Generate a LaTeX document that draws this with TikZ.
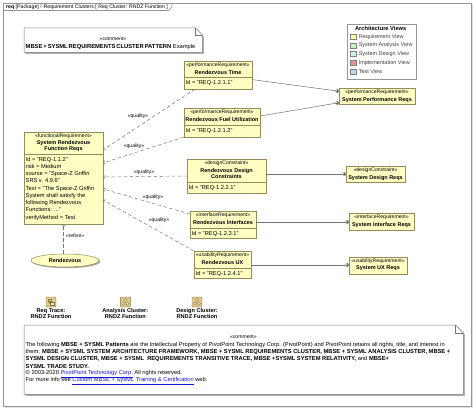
\documentclass[tikz,border=0pt]{standalone}
\usepackage{fontspec}
\setmainfont{Liberation Sans}
\usetikzlibrary{arrows.meta,calc,shadows,shapes.geometric}

\definecolor{reqfill}{RGB}{255,255,196}
\definecolor{reqline}{RGB}{150,140,90}
\definecolor{conn}{RGB}{115,115,115}
\definecolor{framec}{RGB}{150,150,150}
\definecolor{notec}{RGB}{120,120,120}
\definecolor{linkc}{RGB}{20,20,220}
\definecolor{icontan}{RGB}{222,200,140}
\definecolor{iconline}{RGB}{140,110,60}
\definecolor{lgyellow}{RGB}{255,255,150}
\definecolor{lggreen}{RGB}{200,240,200}
\definecolor{lgcyan}{RGB}{200,245,250}
\definecolor{lgred}{RGB}{240,140,150}
\definecolor{lgblue}{RGB}{190,215,240}

\newcommand\fst{\fontsize{5.1}{5.8}\selectfont}
\newcommand\fsn{\fontsize{5.5}{5.8}\selectfont\bfseries}
\newcommand\fsa{\fontsize{5.7}{7.25}\selectfont}
\newcommand\fsc{\fontsize{5.75}{7.3}\selectfont}
\newcommand\mbs{MBSE + SYSML}

\tikzset{
  rbox/.style={draw=reqline, fill=reqfill, line width=0.5pt, inner sep=0, outer sep=0,
    drop shadow={shadow xshift=1.2pt, shadow yshift=-1.2pt, opacity=0.35, fill=black}},
  stereo/.style={inner sep=0, font=\fst},
  rname/.style={inner sep=0, align=center, font=\fsn},
  rattr/.style={inner sep=0, align=left, font=\fsa, anchor=north west},
  qline/.style={draw=conn, line width=0.45pt, dash pattern=on 3.5pt off 2.5pt,
    -{Straight Barb[length=2pt,width=3.2pt]}},
  cline/.style={draw=conn, line width=0.5pt},
  contain/.style={circle, draw=conn, fill=white, minimum size=3.6pt, inner sep=0, line width=0.4pt,
    path picture={\draw[conn, line width=0.3pt] (path picture bounding box.north) -- (path picture bounding box.south)
      (path picture bounding box.west) -- (path picture bounding box.east);}},
  qlabel/.style={inner sep=0, font=\fst},
  lsq/.style={draw=gray, minimum width=6pt, minimum height=5pt, inner sep=0},
  ltext/.style={anchor=west, inner sep=0, font=\fontsize{5.5}{6}\selectfont, text=black!75},
  icon/.style={draw=iconline, fill=icontan, minimum size=10pt, inner sep=0, rounded corners=0.8pt},
  iclabel/.style={inner sep=0, align=center, font=\fontsize{5.6}{5.7}\selectfont\bfseries},
  cline2/.style={anchor=west, inner sep=0, font=\fsc},
}

% name, x1, y1, x2, y2, ydiv, stereotype, title, attributes
\newcommand\reqbox[9]{%
  \node[rbox, minimum width=#4pt-#2pt, minimum height=#5pt-#3pt, anchor=north west] (#1) at (#2,#3) {};
  \draw[reqline, line width=0.5pt] (#2,#6) -- (#4,#6);
  \node[stereo] (#1-st) at ({(#2+#4)/2},{#3+4.5}) {«#7»};
  \node[rname] (#1-nm) at ({(#2+#4)/2},{(#3+#6)/2+3.4}) {#8};
  \node[rattr] (#1-at) at ({#2+1.5},{#6+2.8}) {#9};
}
% name, x1, y1, x2, y2, stereotype, title
\newcommand\sysbox[7]{%
  \node[rbox, minimum width=#4pt-#2pt, minimum height=#5pt-#3pt, anchor=north west] (#1) at (#2,#3) {};
  \node[stereo] (#1-st) at ({(#2+#4)/2},{#3+4.4}) {«#6»};
  \node[rname] (#1-nm) at ({(#2+#4)/2},{#3+11.6}) {#7};
}

\begin{document}
\begin{tikzpicture}[x=1pt, y=-1pt]
\useasboundingbox (0,0) rectangle (474,409);
\fill[white] (0,0) rectangle (474,409);

% frame
\fill[black!12] (4.5,4.5) rectangle (472.5,408);
\draw[framec, fill=white, line width=0.6pt] (3,3) rectangle (471,406);
\draw[framec, line width=0.6pt] (3,10.5) -- (168.5,10.5) -- (172,7) -- (172,3);
\node[anchor=west, inner sep=0, font=\fontsize{5.2}{6}\selectfont] (title) at (6,6.8)
  {\textbf{req} [Package] ! Requirement Clusters [ Req Cluster: RNDZ Function ]};

% comment 1
\node[anchor=north west, minimum width=178pt, minimum height=24pt, inner sep=0] (cm1) at (24,28) {};
\fill[black, opacity=0.3] ($(cm1.north west)+(1.5,1.5)$) -- ($(cm1.north east)+(-5.5,1.5)$) -- ($(cm1.north east)+(1.5,8.5)$)
  -- ($(cm1.south east)+(1.5,1.5)$) -- ($(cm1.south west)+(1.5,1.5)$) -- cycle;
\draw[notec, fill=white, line width=0.5pt] (cm1.north west) -- ($(cm1.north east)+(-7,0)$) -- ($(cm1.north east)+(0,7)$)
  -- (cm1.south east) -- (cm1.south west) -- cycle;
\draw[notec, line width=0.5pt] ($(cm1.north east)+(-7,0)$) -- ($(cm1.north east)+(-7,7)$) -- ($(cm1.north east)+(0,7)$);
\node[inner sep=0, font=\fst] (cm1-st) at (113,39.2) {«comment»};
\node[anchor=west, inner sep=0, font=\fontsize{5.8}{6}\selectfont] (cm1-tx) at (25.5,46.8)
  {\textbf{MBSE\,+\,SYSML\,REQUIREMENTS\,CLUSTER\,PATTERN} Example};

% legend
\node[draw=framec, fill=white, line width=0.5pt, minimum width=69pt, minimum height=55pt, anchor=north west, inner sep=0,
  drop shadow={shadow xshift=1.2pt, shadow yshift=-1.2pt, opacity=0.3, fill=black}] (legend) at (346.7,24) {};
\node[inner sep=0, font=\fontsize{5.7}{6}\selectfont\bfseries] (leg-t) at (380.7,28.3) {Architecture Views};
\node[lsq, fill=lgyellow] (lg1) at (353,36.7) {};
\node[lsq, fill=lggreen] (lg2) at (353,45.3) {};
\node[lsq, fill=lgcyan] (lg3) at (353,54) {};
\node[lsq, fill=lgred] (lg4) at (353,62.7) {};
\node[lsq, fill=lgblue] (lg5) at (353,71.3) {};
\node[ltext] (lt1) at (358.6,36.7) {Requirement View};
\node[ltext] (lt2) at (358.6,45.3) {System Analysis View};
\node[ltext] (lt3) at (358.6,54) {System Design View};
\node[ltext] (lt4) at (358.6,62.7) {Implementation View};
\node[ltext] (lt5) at (358.6,71.3) {Test View};

% requirement boxes
\reqbox{fr}{24}{132}{103}{224}{154}{functionalRequirement}{System Rendezvous\\Function Reqs}%
  {Id = "REQ-1.1.2"\\risk = Medium\\source = "Space-Z Griffin\\SRS v. 4.9.6"\\Text = "The Space-Z Griffin\\System shall satisfy the\\following Rendezvous\\Functions: ..."\\verifyMethod = Test}
\reqbox{rt}{184}{61}{252}{89}{77}{performanceRequirement}{Rendezvous Time}{Id = "REQ-1.2.1.1"}
\reqbox{fu}{184}{108}{260}{137}{125}{performanceRequirement}{Rendezvous Fuel Utilization}{Id = "REQ-1.2.1.2"}
\reqbox{dc}{187}{159}{266}{193}{182}{designConstraint}{Rendezvous Design\\Constraints}{Id = "REQ-1.2.2.1"}
\reqbox{ri}{190}{211}{256}{238}{228}{interfaceRequirement}{Rendezvous Interfaces}{Id = "REQ-1.2.3.1"}
\reqbox{ux}{194}{251}{251}{278}{268}{usabilityRequirement}{Rendezvous UX}{Id = "REQ-1.2.4.1"}

\sysbox{spr}{339}{88}{415}{104}{performanceRequirement}{System Performance Reqs}
\sysbox{sdr}{346}{166}{405}{182}{designConstraint}{System Design Reqs}
\sysbox{sir}{349}{213}{414}{230}{interfaceRequirement}{System Interface Reqs}
\sysbox{sur}{349}{257}{407}{274}{usabilityRequirement}{System UX Reqs}

% use case
\node[ellipse, draw=reqline, fill=reqfill, line width=0.5pt, minimum width=68pt, minimum height=13pt, inner sep=0,
  drop shadow={shadow xshift=1.2pt, shadow yshift=-1.2pt, opacity=0.35, fill=black}, font=\fsn] (rdv) at (65,260.5) {Rendezvous};

% quality dependencies
\draw[qline] ($(rt.south west)+(11,0)$) -- ($(fr.north east)+(0,18)$);
\draw[qline] (fu.south west) -- ($(fr.north east)+(0,31)$);
\draw[qline] ($(dc.north west)+(0,17)$) -- ($(fr.north east)+(0,45)$);
\draw[qline] ($(ri.north west)+(0,3)$) -- ($(fr.north east)+(0,57)$);
\draw[qline] (ux.north west) -- ($(fr.north east)+(0,68)$);
\node[qlabel] (q1) at (138,116) {«quality»};
\node[qlabel] (q2) at (134,146) {«quality»};
\node[qlabel] (q3) at (144,172.3) {«quality»};
\node[qlabel] (q4) at (153,197.3) {«quality»};
\node[qlabel] (q5) at (159,220.3) {«quality»};

% refine
\draw[qline] (rdv.north -| fr.south) -- (fr.south);
\node[qlabel] (rf) at (75,236) {«refine»};

% containment
\node[contain] (k1) at (337.2,91) {};
\node[contain] (k2) at (337.2,103) {};
\node[contain] (k3) at (344.2,174) {};
\node[contain] (k4) at (347.2,222) {};
\node[contain] (k5) at (347.2,265) {};
\draw[cline] (rt) -- (k1);
\draw[cline] (fu) -- (k2);
\draw[cline] (dc.east |- k3) -- (k3);
\draw[cline] (ri.east |- k4) -- (k4);
\draw[cline] (ux.east |- k5) -- (k5);

% diagram icons
\node[icon] (ic1) at (51,302) {};
\draw[iconline, fill=white!70!icontan, line width=0.3pt] ($(ic1.north west)+(2,2)$) rectangle ++(3.5,2.5)
  ($(ic1.north west)+(4.5,5.5)$) rectangle ++(3.5,2.5);
\draw[iconline, line width=0.3pt] ($(ic1.north west)+(3.7,4.5)$) |- ($(ic1.north west)+(4.5,6.7)$);
\node[icon] (ic2) at (125.3,302) {};
\node[icon] (ic3) at (197,302) {};
\foreach \ic in {ic2,ic3}{
  \draw[iconline, fill=white!60!icontan, line width=0.3pt]
    ($(\ic.center)+(0,-2)$) circle (1.6pt)
    ($(\ic.center)+(-2,1.8)$) circle (1.6pt)
    ($(\ic.center)+(2,1.8)$) circle (1.6pt);
}
\node[iclabel] (il1) at (51,313.5) {Req Trace:\\RNDZ Function};
\node[iclabel] (il2) at (125.3,313.5) {Analysis Cluster:\\RNDZ Function};
\node[iclabel] (il3) at (197,313.5) {Design Cluster:\\RNDZ Function};

% comment 2
\node[anchor=north west, minimum width=439pt, minimum height=69pt, inner sep=0] (cm2) at (24,325) {};
\fill[black, opacity=0.3] ($(cm2.north west)+(1.5,1.5)$) -- ($(cm2.north east)+(-6.5,1.5)$) -- ($(cm2.north east)+(1.5,9.5)$)
  -- ($(cm2.south east)+(1.5,1.5)$) -- ($(cm2.south west)+(1.5,1.5)$) -- cycle;
\draw[notec, fill=white, line width=0.5pt] (cm2.north west) -- ($(cm2.north east)+(-8,0)$) -- ($(cm2.north east)+(0,8)$)
  -- (cm2.south east) -- (cm2.south west) -- cycle;
\draw[notec, line width=0.5pt] ($(cm2.north east)+(-8,0)$) -- ($(cm2.north east)+(-8,8)$) -- ($(cm2.north east)+(0,8)$);
\node[inner sep=0, font=\fst] (cm2-st) at (243.4,336.8) {«comment»};
\node[cline2] (l1) at (25.5,344.7) {The following \textbf{\mbs\ Patterns} are the Intellectual Property of PivotPoint Technology Corp. (PivotPoint) and PivotPoint retains all rights, title, and interest in};
\node[cline2] (l2) at (25.5,352) {them: \textbf{\mbs\ SYSTEM ARCHITECTURE FRAMEWORK, \mbs\ REQUIREMENTS CLUSTER, \mbs\ ANALYSIS CLUSTER, MBSE +}};
\node[cline2] (l3) at (25.5,359.3) {\textbf{SYSML DESIGN CLUSTER, \mbs\ \ REQUIREMENTS TRANSITIVE TRACE, MBSE +SYSML SYSTEM RELATIVITY,} and \textbf{MBSE+}};
\node[cline2] (l4) at (25.5,366.7) {\textbf{SYSML TRADE STUDY.}};
\node[cline2] (l5) at (25.5,374) {© 2003-2020 \textcolor{linkc}{\underline{PivotPoint Technology Corp.}} All rights reserved.};
\node[cline2] (l6) at (25.5,381.3) {For more info see \textcolor{linkc}{\underline{Custom MBSE + SysML Training \& Certification}} web.};
\end{tikzpicture}
\end{document}
